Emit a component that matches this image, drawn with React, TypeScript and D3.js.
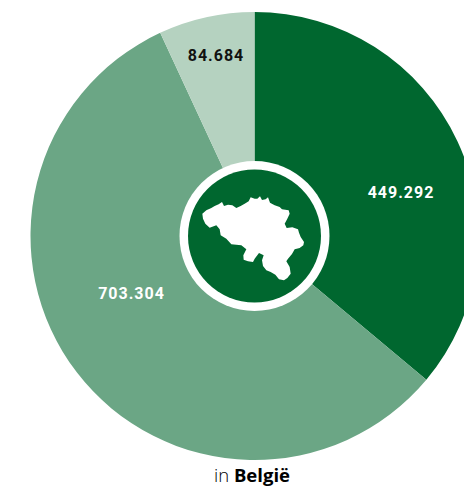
import React from "react";
import * as d3 from "d3";

const categories = ["dark", "mid", "light"];
// Slice sweeps in degrees (they differ slightly from the printed numbers)
const sliceDegrees = [129.9, 205.2, 24.9];
const valueLabels = ["449.292", "703.304", "84.684"];
const colors = ["#00672f", "#6ba685", "#b5d2c0"];
const labelColors = ["#ffffff", "#ffffff", "#111111"];
const labelAnchors: [number, number][] = [[401, 192], [131.5, 293], [216, 55]];
// Outline of Belgium, in an icon box of 336 x 282 units
const belgiumOutline: [number, number][] = [
  [13,65],[25,55],[40,48],[50,42],[62,37],[72,30],[78,42],[90,38],[103,40],[115,48],[128,42],[140,35],[152,28],[158,16],[170,20],[178,20],[186,13],[192,24],[203,22],[210,16],[216,32],[230,40],[245,45],[252,52],[272,55],[275,65],[268,80],[260,95],[266,108],[283,106],[300,112],[303,122],[308,135],[318,150],[316,160],[305,168],[290,172],[282,186],[270,200],[265,208],[275,225],[278,245],[268,258],[258,265],[243,262],[232,248],[218,240],[205,235],[195,222],[192,205],[197,190],[183,183],[170,200],[165,210],[150,208],[137,203],[136,190],[145,172],[130,160],[100,157],[85,140],[68,130],[65,112],[55,100],[35,107],[22,95],[15,80]
];

const WIDTH = 464;
const HEIGHT = 486;
const CX = 254.5;
const CY = 236;
const R = 224;

export default function App() {
  const pie = d3.pie<number>().sort(null).startAngle(0).endAngle(2 * Math.PI);
  const arc = d3.arc<d3.PieArcDatum<number>>().innerRadius(0).outerRadius(R);
  const arcs = pie(sliceDegrees);
  const iconX = d3.scaleLinear().domain([0, 336]).range([198, 310]);
  const iconY = d3.scaleLinear().domain([0, 282]).range([192, 286]);
  const outline = d3.line<[number, number]>().x(d => iconX(d[0])).y(d => iconY(d[1])).curve(d3.curveLinearClosed);
  return (
    <svg width={WIDTH} height={HEIGHT} viewBox={`0 0 ${WIDTH} ${HEIGHT}`} style={{ position: "absolute", left: 0, top: 0, display: "block" }}>
      <g transform={`translate(${CX},${CY})`}>
        {arcs.map((a, i) => (
          <path key={categories[i]} d={arc(a) ?? ""} fill={colors[i]} />
        ))}
      </g>
      <circle cx={CX} cy={CY} r={75} fill="#ffffff" />
      <circle cx={CX} cy={CY} r={66.5} fill={colors[0]} />
      <path d={outline(belgiumOutline) ?? ""} fill="#ffffff" />
      {valueLabels.map((t, i) => (
        <text key={t} x={labelAnchors[i][0]} y={labelAnchors[i][1]} dy="0.35em" textAnchor="middle"
          fontFamily="Roboto, sans-serif" fontWeight={700} fontSize={16} letterSpacing={1} fill={labelColors[i]}>{t}</text>
      ))}
      <text x={252} y={481.5} textAnchor="middle" fontFamily="'Open Sans', sans-serif" fontSize={18.5} fontWeight={300} fill="#000000">
        in <tspan fontWeight={700}>België</tspan>
      </text>
    </svg>
  );
}
